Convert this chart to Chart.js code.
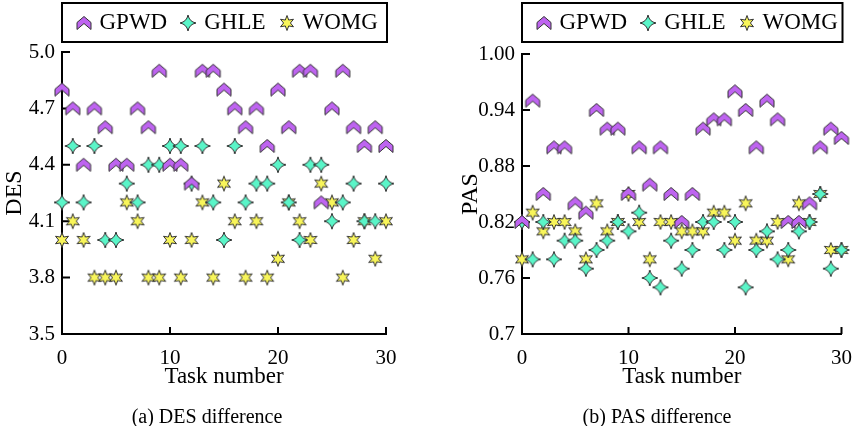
<!DOCTYPE html>
<html>
<head>
<meta charset="utf-8">
<script src="https://cdn.jsdelivr.net/npm/chart.js@4.4.0/dist/chart.umd.min.js"></script>
<style>
    body { margin: 0; background: #fff; }
    #wrap { position: relative; width: 864px; height: 426px; overflow: hidden; }
    .box { position: absolute; top: 0; width: 432px; height: 426px; }
    .caption {
        position: absolute; top: 405px; white-space: nowrap;
        font-family: "Liberation Serif", serif; font-size: 20px; color: #000;
        transform: translateX(-50%);
    }
</style>
</head>
<body>
<div id="wrap">
    <div class="box" style="left:0"><canvas id="desChart" width="432" height="426"></canvas></div>
    <div class="box" style="left:432px"><canvas id="pasChart" width="432" height="426"></canvas></div>
    <div class="caption" style="left:207px">(a) DES difference</div>
    <div class="caption" style="left:657px">(b) PAS difference</div>
</div>
<script>
// data
const taskNumbers = [0, 1, 2, 3, 4, 5, 6, 7, 8, 9, 10, 11, 12, 13, 14, 15, 16, 17, 18, 19, 20, 21, 22, 23, 24, 25, 26, 27, 28, 29, 30];
const seriesNames = ['GPWD', 'GHLE', 'WOMG'];

const desGPWD = [4.8, 4.7, 4.4, 4.7, 4.6, 4.4, 4.4, 4.7, 4.6, 4.9, 4.4, 4.4, 4.3, 4.9, 4.9, 4.8, 4.7, 4.6, 4.7, 4.5, 4.8, 4.6, 4.9, 4.9, 4.2, 4.7, 4.9, 4.6, 4.5, 4.6, 4.5];
const desGHLE = [4.2, 4.5, 4.2, 4.5, 4.0, 4.0, 4.3, 4.2, 4.4, 4.4, 4.5, 4.5, 4.3, 4.5, 4.2, 4.0, 4.5, 4.2, 4.3, 4.3, 4.4, 4.2, 4.0, 4.4, 4.4, 4.1, 4.2, 4.3, 4.1, 4.1, 4.3];
const desWOMG = [4.0, 4.1, 4.0, 3.8, 3.8, 3.8, 4.2, 4.1, 3.8, 3.8, 4.0, 3.8, 4.0, 4.2, 3.8, 4.3, 4.1, 3.8, 4.1, 3.8, 3.9, 4.2, 4.1, 4.0, 4.3, 4.2, 3.8, 4.0, 4.1, 3.9, 4.1];

const pasGPWD = [0.82, 0.95, 0.85, 0.90, 0.90, 0.84, 0.83, 0.94, 0.92, 0.92, 0.85, 0.90, 0.86, 0.90, 0.85, 0.82, 0.85, 0.92, 0.93, 0.93, 0.96, 0.94, 0.90, 0.95, 0.93, 0.82, 0.82, 0.84, 0.90, 0.92, 0.91];
const pasGHLE = [0.82, 0.78, 0.82, 0.78, 0.80, 0.80, 0.77, 0.79, 0.80, 0.82, 0.81, 0.83, 0.76, 0.75, 0.80, 0.77, 0.79, 0.82, 0.82, 0.79, 0.82, 0.75, 0.79, 0.81, 0.78, 0.79, 0.81, 0.82, 0.85, 0.77, 0.79];
const pasWOMG = [0.78, 0.83, 0.81, 0.82, 0.82, 0.81, 0.78, 0.84, 0.81, 0.82, 0.85, 0.82, 0.78, 0.82, 0.82, 0.81, 0.81, 0.81, 0.83, 0.83, 0.80, 0.84, 0.80, 0.80, 0.82, 0.78, 0.84, 0.82, 0.85, 0.79, 0.79];

const taskTicks = [0, 10, 20, 30];
const desTicks = [3.5, 3.8, 4.1, 4.4, 4.7, 5.0];
const desTickLabels = ['3.5', '3.8', '4.1', '4.4', '4.7', '5.0'];
const pasTicks = [0.7, 0.76, 0.82, 0.88, 0.94, 1.0];
const pasTickLabels = ['0.7', '0.76', '0.82', '0.88', '0.94', '1.00'];

const FONT = '"Liberation Serif", serif';

// marker images
function makeMarker(kind, fill) {
    const c = document.createElement('canvas');
    c.width = 20;
    c.height = 20;
    const ctx = c.getContext('2d');
    ctx.translate(10, 10);
    ctx.beginPath();
    if (kind === 'chevron') {
        ctx.moveTo(-7, -0.5);
        ctx.lineTo(0, -6.5);
        ctx.lineTo(7, -0.5);
        ctx.lineTo(7, 6.5);
        ctx.lineTo(0, 0.5);
        ctx.lineTo(-7, 6.5);
    } else if (kind === 'sparkle') {
        const r = 8, k = 1.3;
        ctx.moveTo(0, -r);
        ctx.quadraticCurveTo(k, -k, r, 0);
        ctx.quadraticCurveTo(k, k, 0, r);
        ctx.quadraticCurveTo(-k, k, -r, 0);
        ctx.quadraticCurveTo(-k, -k, 0, -r);
    } else {
        for (let i = 0; i < 12; i++) {
            const a = -Math.PI / 2 + i * Math.PI / 6;
            const rr = i % 2 ? 3.4 : 7.5;
            if (i === 0) ctx.moveTo(rr * Math.cos(a), rr * Math.sin(a));
            else ctx.lineTo(rr * Math.cos(a), rr * Math.sin(a));
        }
    }
    ctx.closePath();
    ctx.fillStyle = fill;
    ctx.fill();
    ctx.lineWidth = 1;
    ctx.strokeStyle = '#333';
    ctx.stroke();
    return c;
}

const markers = [
    makeMarker('chevron', 'rgb(190,100,240)'),
    makeMarker('sparkle', 'rgb(90,245,200)'),
    makeMarker('star', 'rgb(248,245,90)')
];

// inward ticks + boxed legend
const framePlugin = {
    id: 'frame',
    beforeDatasetsDraw(chart) {
        const {ctx, chartArea, scales} = chart;
        ctx.save();
        ctx.strokeStyle = '#000';
        ctx.lineWidth = 2;
        ctx.beginPath();
        scales.y.ticks.forEach(t => {
            const y = scales.y.getPixelForValue(t.value);
            ctx.moveTo(chartArea.left, y);
            ctx.lineTo(chartArea.left + 8, y);
        });
        scales.x.ticks.forEach(t => {
            const x = scales.x.getPixelForValue(t.value);
            ctx.moveTo(x, chartArea.bottom);
            ctx.lineTo(x, chartArea.bottom - 7);
        });
        ctx.stroke();
        ctx.restore();
    },
    afterDraw(chart) {
        const {ctx, chartArea} = chart;
        ctx.save();
        ctx.strokeStyle = '#000';
        ctx.lineWidth = 2;
        ctx.strokeRect(chartArea.left, 3, chartArea.right - chartArea.left + 1, 39);
        ctx.font = '23px ' + FONT;
        ctx.fillStyle = '#000';
        ctx.textBaseline = 'middle';
        let x = chartArea.left + 21.5;
        chart.data.datasets.forEach((ds, i) => {
            const m = markers[i];
            ctx.drawImage(m, Math.round(x - m.width / 2), 23 - m.height / 2);
            x += 16;
            ctx.fillText(ds.label, x, 23);
            x += ctx.measureText(ds.label).width + 21;
        });
        ctx.restore();
    }
};

function buildChart(canvasId, values, yTicks, yLabels, yTitle, cfg) {
    const datasets = values.map((vals, i) => ({
        label: seriesNames[i],
        data: taskNumbers.map((t, j) => ({x: t, y: vals[j]})),
        pointStyle: markers[i],
        pointRadius: 7,
        showLine: false,
        clip: false
    }));

    return new Chart(document.getElementById(canvasId), {
        type: 'scatter',
        data: {datasets},
        plugins: [framePlugin],
        options: {
            responsive: false,
            animation: false,
            layout: {padding: {top: cfg.top, right: cfg.right, left: 0, bottom: 0}},
            plugins: {legend: {display: false}, tooltip: {enabled: false}},
            scales: {
                x: {
                    type: 'linear',
                    min: 0,
                    max: 30,
                    afterBuildTicks: s => { s.ticks = taskTicks.map(v => ({value: v})); },
                    afterFit: s => { s.height = 92; },
                    grid: {display: false, drawTicks: false},
                    border: {display: true, color: '#000', width: 2},
                    ticks: {color: '#000', font: {family: FONT, size: 21}, padding: 12, maxRotation: 0, autoSkip: false},
                    title: {display: true, text: 'Task number', color: '#000', font: {family: FONT, size: 23}, padding: {top: 0, bottom: 35}}
                },
                y: {
                    type: 'linear',
                    min: yTicks[0],
                    max: yTicks[yTicks.length - 1],
                    afterBuildTicks: s => { s.ticks = yTicks.map(v => ({value: v})); },
                    afterFit: s => { s.width = cfg.axisWidth; },
                    grid: {display: false, drawTicks: false},
                    border: {display: true, color: '#000', width: 2},
                    ticks: {
                        color: '#000', font: {family: FONT, size: 21}, padding: 7, autoSkip: false,
                        callback: (v, i) => yLabels[i]
                    },
                    title: {display: true, text: yTitle, color: '#000', font: {family: FONT, size: 24}, padding: {top: cfg.titlePad, bottom: 0}}
                }
            }
        }
    });
}

buildChart('desChart', [desGPWD, desGHLE, desWOMG], desTicks, desTickLabels, 'DES',
    {top: 52, right: 46, axisWidth: 62, titlePad: 0});
buildChart('pasChart', [pasGPWD, pasGHLE, pasWOMG], pasTicks, pasTickLabels, 'PAS',
    {top: 54, right: 19, axisWidth: 90, titlePad: 24});
</script>
</body>
</html>
